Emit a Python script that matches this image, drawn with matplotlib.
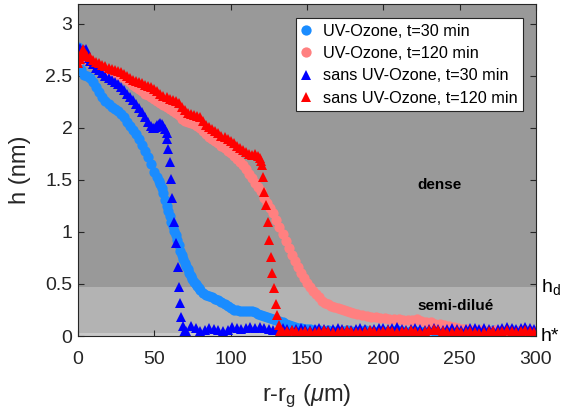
import numpy as np
import matplotlib
matplotlib.use("Agg")
import matplotlib.pyplot as plt

plt.rcParams['font.family'] = ['Liberation Sans', 'DejaVu Sans']
plt.rcParams['mathtext.fontset'] = 'custom'
plt.rcParams['mathtext.rm'] = 'Liberation Sans'
plt.rcParams['mathtext.it'] = 'Liberation Sans:italic'

# UV-Ozone, t=30 min
uv30_x = [0, 1, 2, 4, 6, 8, 10, 12, 14, 16, 18, 20, 22, 24, 26, 28, 30, 32, 34, 36,
          38, 40, 42, 44, 46, 48, 50, 52, 53, 54, 55, 56, 57, 58, 59, 60, 61, 62, 63, 64,
          65, 66, 67, 68, 69, 70, 71, 72, 73, 74, 75, 76, 77, 78, 79, 80, 82, 84, 86, 88,
          90, 92, 94, 96, 98, 100, 102, 104, 106, 108, 110, 112, 114, 116,
          118, 120, 122, 124, 126, 128, 130, 132, 134, 136, 138, 140, 142, 144, 146, 148, 150,
          152, 155, 158, 161, 164, 167, 170, 173, 176, 179, 182, 185, 188, 191, 194, 197, 200,
          203, 206, 209, 212, 215, 218, 221, 224, 227, 230, 233, 236, 239, 242, 245, 248, 251,
          254, 257, 260, 263, 266, 269, 272, 275, 278, 281, 284, 287, 290, 293, 296, 299]
uv30_h = [2.78, 2.64, 2.56, 2.51, 2.50, 2.48, 2.44, 2.39, 2.34, 2.30, 2.26, 2.23, 2.20, 2.18, 2.16, 2.13, 2.10, 2.06, 2.02, 1.98,
          1.94, 1.89, 1.84, 1.78, 1.72, 1.65, 1.58, 1.53, 1.49, 1.46, 1.42, 1.37, 1.31, 1.25, 1.20, 1.15, 1.10, 1.06, 1.01, 0.97,
          0.92, 0.87, 0.82, 0.78, 0.74, 0.70, 0.67, 0.64, 0.61, 0.58, 0.55, 0.52, 0.50, 0.48, 0.46, 0.44, 0.41, 0.39, 0.38, 0.37,
          0.36, 0.35, 0.33, 0.31, 0.29, 0.27, 0.25, 0.25, 0.24, 0.24, 0.24, 0.24, 0.24, 0.23,
          0.21, 0.20, 0.19, 0.18, 0.17, 0.16, 0.15, 0.14, 0.13, 0.12, 0.11, 0.10, 0.09, 0.08, 0.08, 0.07, 0.07,
          0.07, 0.06, 0.06, 0.05, 0.06, 0.05, 0.04, 0.05, 0.06, 0.05, 0.04, 0.05, 0.06, 0.05, 0.04, 0.05, 0.05,
          0.04, 0.05, 0.06, 0.05, 0.04, 0.05, 0.05, 0.04, 0.05, 0.06, 0.05, 0.04, 0.04, 0.05, 0.04, 0.05, 0.04,
          0.03, 0.04, 0.05, 0.04, 0.04, 0.05, 0.06, 0.05, 0.04, 0.05, 0.06, 0.05, 0.05, 0.06, 0.05, 0.05]

# UV-Ozone, t=120 min
uv120_x = [0, 2, 4, 6, 8, 10, 12, 14, 16, 18, 20, 22, 24, 26, 28, 30, 32, 34, 36, 38,
           40, 42, 44, 46, 48, 50, 52, 54, 56, 58, 60, 62, 64, 66, 68, 70, 72, 74, 76, 78,
           80, 82, 84, 86, 88, 90, 92, 94, 96, 98, 100, 102, 104, 106, 108, 110, 112, 114, 116, 118,
           120, 122, 124, 126, 128, 130, 132, 134, 136, 138, 140, 142, 144, 146, 148, 150, 152, 154, 156, 158,
           160, 162, 164, 166, 168, 170, 172, 174, 176, 178, 180, 183, 186, 189, 192, 195, 198, 201, 204, 207,
           210, 213, 216, 219, 222, 225, 228, 231, 234, 237, 240, 243, 246, 249, 252, 255, 258, 261, 264, 267,
           270, 273, 276, 279, 282, 285, 288, 291, 294, 297, 300]
uv120_h = [2.64, 2.66, 2.67, 2.65, 2.63, 2.61, 2.59, 2.58, 2.56, 2.55, 2.54, 2.53, 2.52, 2.51, 2.50, 2.48, 2.46, 2.44, 2.41, 2.39,
           2.37, 2.35, 2.33, 2.32, 2.30, 2.28, 2.26, 2.24, 2.22, 2.20, 2.18, 2.16, 2.14, 2.12, 2.09, 2.07, 2.06, 2.05, 2.04, 2.02,
           2.00, 1.97, 1.94, 1.91, 1.89, 1.87, 1.85, 1.83, 1.81, 1.78, 1.76, 1.73, 1.70, 1.67, 1.64, 1.60, 1.56, 1.52, 1.47, 1.43,
           1.39, 1.33, 1.28, 1.23, 1.18, 1.11, 1.05, 0.98, 0.91, 0.85, 0.78, 0.72, 0.66, 0.61, 0.56, 0.51, 0.47, 0.43, 0.40, 0.37,
           0.34, 0.32, 0.31, 0.29, 0.28, 0.27, 0.26, 0.25, 0.24, 0.23, 0.22, 0.21, 0.20, 0.19, 0.18, 0.18, 0.17, 0.17, 0.16, 0.16,
           0.16, 0.15, 0.15, 0.15, 0.16, 0.14, 0.13, 0.13, 0.12, 0.12, 0.11, 0.10, 0.09, 0.08, 0.07, 0.07, 0.06, 0.06, 0.06, 0.05,
           0.05, 0.06, 0.05, 0.05, 0.06, 0.05, 0.05, 0.06, 0.05, 0.05, 0.05]

# sans UV-Ozone, t=30 min
sans30_x = [0, 1, 2, 3, 4, 5, 6, 7, 8, 10, 12, 14, 16, 18, 20, 22, 24, 26, 28, 30,
            32, 34, 36, 38, 40, 42, 44, 46, 48, 49, 50, 51, 52, 53, 54, 55, 56, 57, 58, 58.6,
            59.2, 60.0, 60.8, 61.8, 62.8, 64.2, 65.2, 66.1, 67.0, 67.8, 68.6, 69.6,
            71, 74, 77, 80, 83, 86, 89, 92, 95, 98, 101, 104, 107, 110, 113, 116, 119, 122,
            125, 128, 131, 134, 137, 140, 143, 146, 149, 152, 155, 158, 161, 164, 167, 170, 173, 176,
            179, 182, 185, 188, 191, 194, 197, 200, 203, 206, 209, 212, 215, 218, 221, 224, 227, 230,
            233, 236, 239, 242, 245, 248, 251, 254, 257, 260, 263, 266, 269, 272, 275, 278, 281, 284,
            287, 290, 293, 296, 299]
sans30_h = [2.72, 2.77, 2.74, 2.70, 2.75, 2.76, 2.72, 2.67, 2.64, 2.61, 2.58, 2.56, 2.53, 2.50, 2.48, 2.46, 2.44, 2.42, 2.39, 2.36,
            2.33, 2.30, 2.27, 2.23, 2.19, 2.15, 2.10, 2.06, 2.02, 2.00, 2.00, 2.01, 2.03, 2.04, 2.05, 2.04, 2.02, 1.99, 1.95, 1.89,
            1.80, 1.67, 1.51, 1.33, 1.10, 0.89, 0.66, 0.47, 0.32, 0.18, 0.10, 0.04,
            0.05, 0.10, 0.08, 0.05, 0.06, 0.08, 0.07, 0.06, 0.05, 0.06, 0.09, 0.08, 0.07, 0.08, 0.09, 0.08, 0.09, 0.08,
            0.07, 0.06, 0.07, 0.08, 0.07, 0.06, 0.07, 0.08, 0.07, 0.06, 0.07, 0.08, 0.07, 0.06, 0.07, 0.08, 0.07, 0.06,
            0.06, 0.07, 0.08, 0.07, 0.06, 0.07, 0.08, 0.08, 0.07, 0.08, 0.09, 0.07, 0.06, 0.07, 0.08, 0.07, 0.06, 0.07,
            0.08, 0.07, 0.06, 0.07, 0.08, 0.07, 0.06, 0.07, 0.08, 0.08, 0.07, 0.08, 0.07, 0.06, 0.07, 0.08, 0.09, 0.08,
            0.07, 0.08, 0.09, 0.08, 0.07]

# sans UV-Ozone, t=120 min
sans120_x = [0, 1, 2, 3, 4, 5, 6, 8, 10, 12, 14, 16, 18, 20, 22, 24, 26, 28, 30, 32,
             34, 36, 38, 40, 42, 44, 46, 48, 50, 52, 54, 56, 58, 60, 62, 64, 66, 68, 70, 72,
             74, 76, 78, 80, 82, 84, 86, 88, 90, 92, 94, 96, 98, 100, 102, 104, 106, 108, 110, 112,
             114, 116, 118, 119, 120, 120.5, 121.1, 121.8, 123.1, 124.4, 125.1, 126.4, 127.0, 128.4, 129.7,
             130.3, 131.6, 132.5,
             134, 137, 140, 143, 146, 149, 152, 155, 158, 161, 164, 167, 170, 173, 176, 179, 182, 185,
             188, 191, 194, 197, 200, 203, 206, 209, 212, 215, 218, 221, 224, 227, 230, 233, 236, 239,
             242, 245, 248, 251, 254, 257, 260, 263, 266, 269, 272, 275, 278, 281, 284, 287, 290, 293,
             296, 299]
sans120_h = [2.62, 2.66, 2.70, 2.76, 2.73, 2.70, 2.69, 2.68, 2.65, 2.63, 2.62, 2.60, 2.59, 2.58, 2.57, 2.56, 2.55, 2.54, 2.52, 2.50,
             2.48, 2.46, 2.45, 2.44, 2.43, 2.41, 2.40, 2.39, 2.37, 2.35, 2.33, 2.31, 2.30, 2.28, 2.27, 2.26, 2.24, 2.20, 2.17, 2.14,
             2.13, 2.12, 2.11, 2.10, 2.07, 2.03, 2.01, 1.99, 1.97, 1.95, 1.92, 1.91, 1.89, 1.87, 1.85, 1.83, 1.81, 1.79, 1.77, 1.75,
             1.74, 1.75, 1.73, 1.71, 1.68, 1.64, 1.53, 1.38, 1.26, 1.10, 0.92, 0.76, 0.61, 0.46, 0.31,
             0.20, 0.11, 0.05,
             0.04, 0.05, 0.06, 0.05, 0.04, 0.05, 0.05, 0.04, 0.05, 0.06, 0.05, 0.04, 0.04, 0.05, 0.06, 0.05, 0.04, 0.04,
             0.05, 0.06, 0.05, 0.04, 0.05, 0.06, 0.05, 0.04, 0.05, 0.05, 0.06, 0.05, 0.04, 0.05, 0.06, 0.07, 0.06, 0.05,
             0.04, 0.04, 0.05, 0.04, 0.04, 0.05, 0.04, 0.03, 0.04, 0.05, 0.05, 0.04, 0.05, 0.06, 0.05, 0.04, 0.05, 0.06,
             0.05, 0.04]

h_star = 0.025
h_d = 0.47

fig = plt.figure(figsize=(5.63, 4.16), dpi=100)
ax = fig.add_axes([0.1385, 0.1923, 0.8135, 0.798])

# regimes in the background
ax.set_facecolor('#999999')
ax.axhspan(h_star, h_d, color='#b3b3b3', lw=0, zorder=0)
ax.axhspan(0, h_star, color='#c9c9c9', lw=0, zorder=0)

ms_c = 7.4
ms_t = 7.4
ax.plot(uv30_x, uv30_h, 'o', color='#1a8cff', ms=ms_c, mew=0, label='UV-Ozone, t=30 min')
ax.plot(uv120_x, uv120_h, 'o', color='#ff8080', ms=ms_c, mew=0, label='UV-Ozone, t=120 min')
ax.plot(sans30_x, sans30_h, '^', color='#0000ff', ms=ms_t, mew=0, label='sans UV-Ozone, t=30 min')
ax.plot(sans120_x, sans120_h, '^', color='#ff0000', ms=ms_t, mew=0, label='sans UV-Ozone, t=120 min')

ax.text(237, 1.45, 'dense', fontsize=11, fontweight='bold', ha='center', va='center')
ax.text(247, 0.29, 'semi-dilué', fontsize=11, fontweight='bold', ha='center', va='center')
ax.text(303, h_d, '$\\mathrm{h_d}$', fontsize=14, ha='left', va='center', clip_on=False)
ax.text(303, 0.0, 'h*', fontsize=14, ha='left', va='center', clip_on=False)

ax.set_xlim(0, 300)
ax.set_ylim(0, 3.19)
ax.set_xticks([0, 50, 100, 150, 200, 250, 300])
ax.set_yticks([0, 0.5, 1, 1.5, 2, 2.5, 3])
ax.set_yticklabels(['0', '0.5', '1', '1.5', '2', '2.5', '3'])
ax.tick_params(direction='in', top=True, right=True, length=4, width=0.8,
               labelsize=14, colors='#262626')
ax.tick_params(axis='x', pad=11)
ax.tick_params(axis='y', pad=4)
for s in ax.spines.values():
    s.set_color('#262626')
    s.set_linewidth(0.8)

ax.set_xlabel('r-r$_\\mathrm{g}$ ($\\mu$m)', fontsize=17, color='#262626', labelpad=10)
ax.set_ylabel('h (nm)', fontsize=17, color='#262626', labelpad=10)

leg = ax.legend(loc='upper right', bbox_to_anchor=(0.9716, 0.958), borderaxespad=0,
                fontsize=11.7, fancybox=False, framealpha=1, edgecolor='#262626',
                handlelength=0.5, handletextpad=0.8, labelspacing=0.45, borderpad=0.35)
leg.get_frame().set_linewidth(0.8)

fig.savefig('out.png', dpi=100)
